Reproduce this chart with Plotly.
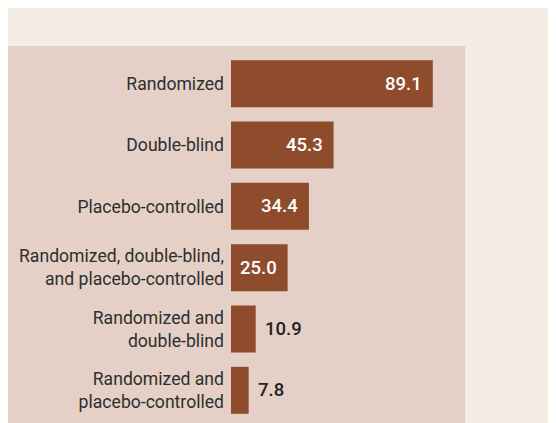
import plotly.graph_objects as go

categories = [
    "Randomized",
    "Double-blind",
    "Placebo-controlled",
    "Randomized, double-blind,<br>and placebo-controlled",
    "Randomized and<br>double-blind",
    "Randomized and<br>placebo-controlled",
]
values = [89.1, 45.3, 34.4, 25.0, 10.9, 7.8]
value_labels = ["89.1", "45.3", "34.4", "25.0", "10.9", "7.8"]

# page is offset by the 8px body margin
OFF = 8
W, H = 556, 423
ML, MR, MT, MB = 231 - OFF, 91 + OFF, 53 - OFF, 2 + OFF
PW, PH = W - ML - MR, H - MT - MB

def px_x(p):
    return (p - OFF - ML) / PW

def px_y(p):
    return (H - MB - (p - OFF)) / PH

BAR = "#8e4c2c"
fig = go.Figure(go.Bar(
    x=values, y=categories, orientation="h",
    marker=dict(color=BAR, line=dict(width=0)),
    hoverinfo="skip",
))

annotations = []
for v, lab, cat in zip(values, value_labels, categories):
    inside = v >= 20
    annotations.append(dict(
        x=v, y=cat, xref="x", yref="y", text=lab, showarrow=False,
        xanchor="right" if inside else "left",
        xshift=-9 if inside else 7,
        font=dict(family="Roboto", size=18.5, weight=500,
                  color="#ffffff" if inside else "#222222"),
    ))

shapes = [
    dict(type="rect", xref="paper", yref="paper", layer="below",
         x0=px_x(OFF - 2), x1=px_x(465), y0=px_y(H + 20), y1=px_y(46),
         fillcolor="#e4d0c6", line=dict(width=0)),
]

fig.update_layout(
    width=W, height=H,
    margin=dict(l=ML, r=MR, t=MT, b=MB, pad=0),
    paper_bgcolor="#f5ece3",
    plot_bgcolor="rgba(0,0,0,0)",
    showlegend=False,
    bargap=0.234,
    shapes=shapes,
    annotations=annotations,
    font=dict(family="Roboto", size=17.6, color="#333333"),
    xaxis=dict(range=[0, PW / 2.265], visible=False, fixedrange=True),
    yaxis=dict(autorange="reversed", showgrid=False, zeroline=False,
               showline=False, ticks="", ticklabelstandoff=6,
               tickfont=dict(family="Roboto", size=17.6, color="#2e2e2e")),
)

fig.write_html("out.html")
